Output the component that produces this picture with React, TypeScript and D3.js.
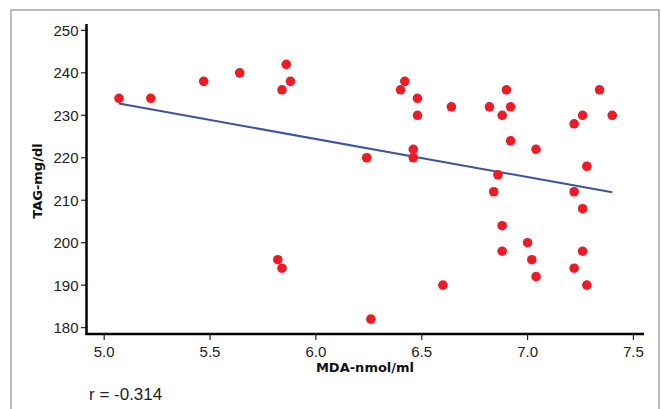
import React from "react";
import * as d3 from "d3";

// MDA (nmol/ml) vs TAG (mg/dl), one entry per subject
const mda = [
  5.07, 5.22, 5.47, 5.64, 5.86, 5.88, 5.84, 5.82, 5.84, 6.24, 6.26, 6.42, 6.4, 6.48,
  6.48, 6.46, 6.46, 6.64, 6.6, 6.82, 6.9, 6.88, 6.92, 6.92, 6.86, 6.84, 6.88, 6.88,
  7.0, 7.04, 7.02, 7.04, 7.22, 7.22, 7.22, 7.26, 7.34, 7.4, 7.28, 7.26, 7.26, 7.28,
];
const tag = [
  234, 234, 238, 240, 242, 238, 236, 196, 194, 220, 182, 238, 236, 234,
  230, 222, 220, 232, 190, 232, 236, 230, 232, 224, 216, 212, 204, 198,
  200, 222, 196, 192, 228, 212, 194, 230, 236, 230, 218, 208, 198, 190,
];
const xTicks = [5.0, 5.5, 6.0, 6.5, 7.0, 7.5];
const yTicks = [180, 190, 200, 210, 220, 230, 240, 250];
const rLabel = "r = -0.314";

const width = 661;
const height = 409;

const App = () => {
  const x = d3.scaleLinear().domain([4.914, 7.55]).range([86, 644]);
  const y = d3.scaleLinear().domain([178.5, 251.5]).range([334, 24]);

  // least squares fit over the points
  const mx = d3.mean(mda);
  const my = d3.mean(tag);
  const sxy = d3.sum(mda, (v, i) => (v - mx) * (tag[i] - my));
  const sxx = d3.sum(mda, v => (v - mx) * (v - mx));
  const slope = sxy / sxx;
  const icpt = my - slope * mx;
  const [x0, x1] = d3.extent(mda);
  const fit = d3
    .line()
    .x(d => x(d))
    .y(d => y(icpt + slope * d));

  const tickFont = "'Liberation Sans', Arial, sans-serif";
  const titleFont = "'DejaVu Sans', Verdana, sans-serif";

  return (
    <svg
      width={width}
      height={height}
      style={{ position: "absolute", left: 0, top: 0, background: "#fff" }}
    >
      <rect x={11} y={10} width={648} height={420} fill="none" stroke="#8c8c8c" strokeWidth={1.2} />

      {yTicks.map(t => (
        <g key={t}>
          <line x1={81} x2={86} y1={y(t)} y2={y(t)} stroke="#222" strokeWidth={1.2} />
          <text
            x={78.5}
            y={y(t)}
            textAnchor="end"
            dominantBaseline="central"
            fontFamily={tickFont}
            fontSize={15}
            fill="#222"
          >
            {t}
          </text>
        </g>
      ))}
      {xTicks.map(t => (
        <g key={t}>
          <line x1={x(t)} x2={x(t)} y1={334} y2={340} stroke="#222" strokeWidth={1.2} />
          <text
            x={x(t)}
            y={357}
            textAnchor="middle"
            fontFamily={tickFont}
            fontSize={15}
            fill="#222"
          >
            {d3.format(".1f")(t)}
          </text>
        </g>
      ))}

      <line x1={86.5} x2={86.5} y1={y.range()[1]} y2={335} stroke="#000" strokeWidth={2.5} />
      <line x1={85.5} x2={644} y1={334} y2={334} stroke="#000" strokeWidth={2.5} />

      <path d={fit([x0, x1])} fill="none" stroke="#3a53a4" strokeWidth={2} />

      {mda.map((v, i) => (
        <circle key={i} cx={x(v)} cy={y(tag[i])} r={4.8} fill="#ed1c24" />
      ))}

      <text
        x={365}
        y={372}
        textAnchor="middle"
        fontFamily={titleFont}
        fontWeight="bold"
        fontSize={13}
        fill="#111"
      >
        MDA-nmol/ml
      </text>
      <text
        transform={`translate(41.5 181) rotate(-90)`}
        textAnchor="middle"
        fontFamily={titleFont}
        fontWeight="bold"
        fontSize={13}
        fill="#111"
      >
        TAG-mg/dl
      </text>
      <text x={89} y={400} fontFamily={tickFont} fontSize={17} fill="#222">
        {rLabel}
      </text>
    </svg>
  );
};

export default App;
